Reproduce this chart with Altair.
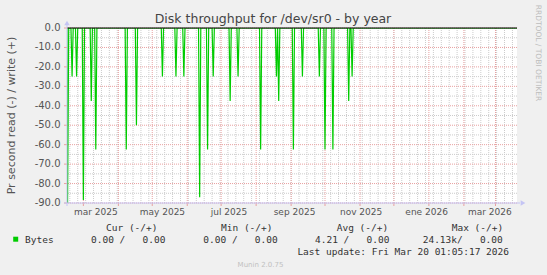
import altair as alt
import pandas as pd

# ---------------- data ----------------
spike_dates = ["2025-02-15", "2025-02-19", "2025-02-23", "2025-03-01", "2025-03-08",
               "2025-03-12", "2025-04-08", "2025-04-17", "2025-05-10", "2025-05-22",
               "2025-05-29", "2025-06-12", "2025-06-19", "2025-06-24", "2025-07-09",
               "2025-07-16", "2025-08-05", "2025-08-19", "2025-08-21", "2025-09-03",
               "2025-09-11", "2025-09-26", "2025-10-01", "2025-10-08", "2025-10-22",
               "2025-10-25"]
spike_values = [-90, -25, -25, -88.5, -37.5, -62.5, -62.5, -50, -25, -25,
                -25, -87, -62.5, -25, -37.5, -25, -62.5, -25, -37.5, -62.5,
                -25, -25, -62.5, -62.5, -37.5, -25]

start_time = "2025-02-14T12:00:00Z"
end_time = "2026-03-20T01:05:17Z"

x_label_dates = ["2025-03-12", "2025-05-10", "2025-07-08", "2025-09-04",
                 "2025-11-02", "2025-12-30", "2026-02-24"]
x_label_texts = ["mar 2025", "may 2025", "jul 2025", "sep 2025",
                 "nov 2025", "ene 2026", "mar 2026"]
month_starts = ["2025-03-01", "2025-04-01", "2025-05-01", "2025-06-01", "2025-07-01",
                "2025-08-01", "2025-09-01", "2025-10-01", "2025-11-01", "2025-12-01",
                "2026-01-01", "2026-02-01", "2026-03-01"]
y_major = [0, -10, -20, -30, -40, -50, -60, -70, -80, -90]
y_minor = [-5, -15, -25, -35, -45, -55, -65, -75, -85]
y_labels = ["0.0", "-10.0", "-20.0", "-30.0", "-40.0", "-50.0", "-60.0", "-70.0",
            "-80.0", "-90.0"]

title_text = "Disk throughput for /dev/sr0 - by year"
y_title = "Pr second read (-) / write (+)"
series_name = "Bytes"
legend_headers = ["Cur (-/+)", "Min (-/+)", "Avg (-/+)", "Max (-/+)"]
legend_values = ["0.00 /\u00a0\u00a0\u00a00.00", "0.00 /\u00a0\u00a0\u00a00.00",
                 "4.21 /\u00a0\u00a0\u00a00.00", "24.13k/\u00a0\u00a0\u00a00.00"]
last_update = "Last update: Fri Mar 20 01:05:17 2026"
munin_version = "Munin 2.0.75"
rrd_credit = "RRDTOOL / TOBI OETIKER"

# ---------------- tables ----------------
rows = [{"d": pd.Timestamp(start_time), "v": 0.0}, {"d": pd.Timestamp(end_time), "v": 0.0}]
for ds, val in zip(spike_dates, spike_values):
    t = pd.Timestamp(ds, tz="UTC")
    rows.append({"d": t - pd.Timedelta(days=1), "v": 0.0})
    rows.append({"d": t, "v": float(val)})
    rows.append({"d": t + pd.Timedelta(days=1), "v": 0.0})
line_df = pd.DataFrame(rows).sort_values("d", kind="stable").reset_index(drop=True)
line_df["d"] = line_df["d"].dt.strftime("%Y-%m-%dT%H:%M:%SZ")

weeks = pd.date_range("2025-02-17", "2026-03-16", freq="W-MON")
week_df = pd.DataFrame({"d": weeks.strftime("%Y-%m-%d")})
month_df = pd.DataFrame({"d": month_starts})
ymaj_df = pd.DataFrame({"g": y_major, "t": y_labels})
ymin_df = pd.DataFrame({"g": y_minor})
xlab_df = pd.DataFrame({"d": x_label_dates, "t": x_label_texts})

W, H = 450, 175
xscale = alt.Scale(type="utc", domain=[start_time, end_time], nice=False)
yscale = alt.Scale(domain=[-90, 0], nice=False, zero=False)

GRAY = "#cccccc"
RED = "#e8a0a0"
AXIS = "#c4c4f4"
TXT = "#555555"

minor_v = alt.Chart(week_df).mark_rule(color=GRAY, strokeDash=[1, 1], strokeWidth=1).encode(
    x=alt.X("d:T", scale=xscale, axis=None))
minor_h = alt.Chart(ymin_df).mark_rule(color=GRAY, strokeDash=[1, 1], strokeWidth=1).encode(
    y=alt.Y("g:Q", scale=yscale, axis=None))
major_v = alt.Chart(month_df).mark_rule(color=RED, strokeDash=[1, 1], strokeWidth=1).encode(
    x=alt.X("d:T", scale=xscale, axis=None))
major_h = alt.Chart(ymaj_df).mark_rule(color=RED, strokeDash=[1, 1], strokeWidth=1).encode(
    y=alt.Y("g:Q", scale=yscale, axis=None))
month_ticks = alt.Chart(month_df).mark_rule(color=RED, strokeWidth=1).encode(
    x=alt.X("d:T", scale=xscale, axis=None), y=alt.value(H), y2=alt.value(H + 3))
y_ticks = alt.Chart(ymaj_df).mark_rule(color=RED, strokeWidth=1).encode(
    y=alt.Y("g:Q", scale=yscale, axis=None), x=alt.value(-3), x2=alt.value(0))
y_tick_labels = alt.Chart(ymaj_df).mark_text(font="DejaVu Sans", fontSize=10, color=TXT,
                                            align="right", baseline="middle").encode(
    y=alt.Y("g:Q", scale=yscale, axis=None), x=alt.value(-6.5), text="t:N")

line = alt.Chart(line_df).mark_line(color="#00cc00", strokeWidth=1.2, clip=True,
                                     interpolate="linear").encode(
    x=alt.X("d:T", scale=xscale, axis=None),
    y=alt.Y("v:Q", scale=yscale, axis=None),
    order=alt.Order("d:T"))

zero = alt.Chart(pd.DataFrame({"g": [0]})).mark_rule(color="black", strokeWidth=1).encode(
    y=alt.Y("g:Q", scale=yscale, axis=None))

frame_df = pd.DataFrame({"k": [0]})
left_axis = alt.Chart(frame_df).mark_rule(color=AXIS, strokeWidth=1).encode(
    x=alt.value(0), y=alt.value(-3), y2=alt.value(H + 3))
bottom_axis = alt.Chart(frame_df).mark_rule(color=AXIS, strokeWidth=1).encode(
    x=alt.value(-3), x2=alt.value(W + 3), y=alt.value(H))
arrow_up = alt.Chart(frame_df).mark_point(shape="triangle-up", filled=True, color=AXIS,
                                          size=30, opacity=1).encode(
    x=alt.value(0), y=alt.value(-5))
arrow_right = alt.Chart(frame_df).mark_point(shape="triangle-right", filled=True, color=AXIS,
                                             size=30, opacity=1).encode(
    x=alt.value(W + 6), y=alt.value(H))

xlabels = alt.Chart(xlab_df).mark_text(font="DejaVu Sans", fontSize=9, color=TXT,
                                       align="center", baseline="alphabetic").encode(
    x=alt.X("d:T", scale=xscale, axis=None), y=alt.value(H + 12), text="t:N")


def txt(s, x, y, size, color, font="DejaVu Sans", align="left", angle=0,
        baseline="alphabetic"):
    return alt.Chart(pd.DataFrame({"t": [s]})).mark_text(
        font=font, fontSize=size, color=color, align=align, baseline=baseline,
        angle=angle).encode(x=alt.value(x), y=alt.value(y), text="t:N")


OX, OY = 67, 28  # plot origin on the page
MONO = "DejaVu Sans Mono"
texts = [
    txt(title_text, 273 - OX, 23.4 - OY, 12.5, "#444444", align="center"),
    txt(y_title, 12 - OX, 115.5 - OY, 11, TXT, align="center", angle=270,
        baseline="middle"),
    txt(rrd_credit, 538 - OX, 53 - OY, 7.5, "#bdbdbd", align="center", angle=90,
        baseline="middle"),
    txt(series_name, 25 - OX, 243 - OY, 9.5, "#333333", font=MONO),
    txt(last_update, 509 - OX, 254.7 - OY, 9.5, "#333333", font=MONO, align="right"),
    txt(munin_version, 260.5 - OX, 267 - OY, 7, "#c0c0c0", align="center"),
]
hdr_x = [106, 221, 336.7, 451.7]
val_x = [91, 203.3, 315, 422.7]
for h, hx in zip(legend_headers, hdr_x):
    texts.append(txt(h, hx - OX, 231.3 - OY, 9.5, "#333333", font=MONO))
for v, vx in zip(legend_values, val_x):
    texts.append(txt(v, vx - OX, 243 - OY, 9.5, "#333333", font=MONO))

swatch = alt.Chart(frame_df).mark_square(color="#00cc00", size=25, opacity=1).encode(
    x=alt.value(15.7 - OX), y=alt.value(239.2 - OY))

chart = alt.layer(
    minor_v, minor_h, major_v, major_h, line, zero, month_ticks, y_ticks,
    left_axis, bottom_axis, arrow_up, arrow_right, xlabels, y_tick_labels, swatch, *texts
).properties(
    width=W, height=H,
    padding={"left": OX, "top": OY, "right": 547 - OX - W, "bottom": 275 - OY - H},
    autosize=alt.AutoSizeParams(type="none"),
).configure(background="#f0f0f0").configure_view(fill="white", strokeWidth=0)

chart.save("out.html", embed_options={"renderer": "svg", "actions": False})
